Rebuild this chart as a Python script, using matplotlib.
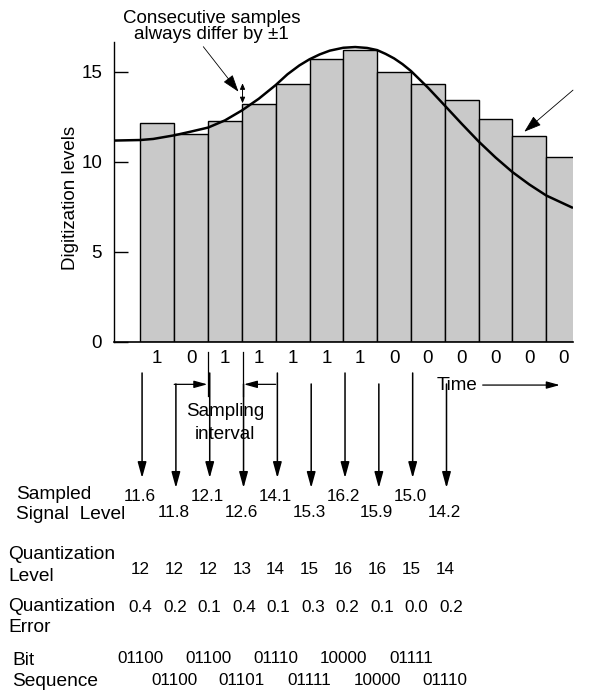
"""Digitization / quantization sketch: bars of sampled levels with the analog signal,
plus the sampled value, quantization level, error and bit sequence rows underneath."""
import matplotlib
matplotlib.use("Agg")
import matplotlib.pyplot as plt
import numpy as np

plt.rcParams["font.family"] = ["Liberation Sans", "DejaVu Sans"]

# --- values ---
levels = [12.14, 11.52, 12.24, 13.19, 14.30, 15.69, 16.20, 14.96, 14.30, 13.43, 12.38, 11.43, 10.27]
bits = ["1", "0", "1", "1", "1", "1", "1", "0", "0", "0", "0", "0", "0"]

# analog signal, traced by eye
sig_t = [-0.28, 0.5, 0.88, 1.5, 2.0, 2.5, 3.0, 3.5, 4.0, 4.5, 4.85, 5.2, 5.5, 5.8, 6.1,
         6.5, 6.85, 7.2, 7.5, 7.75, 8.0, 8.25, 8.5, 9.0, 9.5, 10.0, 10.5, 11.0, 11.5,
         12.0, 12.5, 13.29]
sig_v = [11.18, 11.21, 11.27, 11.47, 11.68, 11.9, 12.3, 12.85, 13.5, 14.26, 14.86, 15.35,
         15.69, 15.96, 16.17, 16.33, 16.37, 16.32, 16.2, 15.99, 15.74, 15.42, 15.04, 14.12,
         13.12, 12.11, 11.13, 10.24, 9.43, 8.74, 8.13, 7.44]

sampled = [11.6, 11.8, 12.1, 12.6, 14.1, 15.3, 16.2, 15.9, 15.0, 14.2]
quant_level = [12, 12, 12, 13, 14, 15, 16, 16, 15, 14]
quant_err = [0.4, 0.2, 0.1, 0.4, 0.1, 0.3, 0.2, 0.1, 0.0, 0.2]
bit_seq = ["01100", "01100", "01100", "01101", "01110", "01111", "10000", "10000", "01111", "01110"]

FS = 13.5      # axis / annotation text
FS_LAB = 13.8  # row labels
FS_VAL = 12.3  # row values

fig = plt.figure(figsize=(6.01, 6.95), dpi=100)
ax = fig.add_axes([114 / 601, (695 - 342) / 695, 459 / 601, 300 / 695])

x = np.arange(1, len(levels) + 1)
ax.bar(x, levels, width=1.0, color="#c9c9c9", edgecolor="black", linewidth=1.0)
ax.plot(sig_t, sig_v, color="black", lw=1.8, solid_capstyle="butt", solid_joinstyle="round")

ax.set_xlim(-0.28, 13.29)
ax.set_ylim(0, 16.65)
for s in ("top", "right"):
    ax.spines[s].set_visible(False)
ax.spines["left"].set_linewidth(1.0)
ax.spines["bottom"].set_linewidth(1.2)

ax.set_yticks([0, 5, 10, 15])
ax.tick_params(axis="y", direction="in", length=10, width=1.0, labelsize=FS, pad=8.5)
ax.set_xticks(x)
ax.set_xticklabels(bits)
ax.tick_params(axis="x", length=0, labelsize=FS, pad=6)
ax.set_ylabel("Digitization levels", fontsize=FS)
ax.yaxis.set_label_coords(-0.076, 0.48)


def arrow(xy, xytext, style="-|>,head_length=0.8,head_width=0.22", lw=1.1, ms=12):
    ax.annotate("", xy=xy, xytext=xytext, annotation_clip=False,
                arrowprops=dict(arrowstyle=style, color="black", lw=lw,
                                shrinkA=0, shrinkB=0, mutation_scale=ms))


def txt(xp, yp, s, fs=FS_VAL, ha="center", va="center"):
    ax.text(xp, yp, s, fontsize=fs, ha=ha, va=va, clip_on=False)


# --- top annotation ---
txt(2.6, 17.73, "Consecutive samples", fs=FS, va="baseline")
txt(2.6, 16.79, "always differ by \u00b11", fs=FS, va="baseline")
arrow((3.40, 13.89), (2.36, 16.39), style="-|>,head_length=0.9,head_width=0.3", lw=0.6)
arrow((3.52, 13.25), (3.52, 14.36), style="<|-|>,head_length=0.35,head_width=0.15", lw=0.7, ms=10)
arrow((11.85, 11.67), (13.29, 13.98), style="-|>,head_length=0.9,head_width=0.3", lw=0.6)

# --- sampling interval marker ---
for xe in (2.51, 3.53):
    ax.plot([xe, xe], [-0.55, -3.0], color="black", lw=0.9, clip_on=False)
arrow((2.48, -2.35), (1.5, -2.35), lw=0.9, ms=10)
arrow((3.56, -2.35), (4.5, -2.35), lw=0.9, ms=10)
txt(3.0, -3.87, "Sampling", fs=FS)
txt(3.0, -5.16, "interval", fs=FS)

txt(9.26, -2.39, "Time", fs=FS, ha="left")
arrow((12.9, -2.39), (10.62, -2.39), lw=0.9, ms=10)

# --- sample arrows and rows ---
for k, v in enumerate(sampled):
    xs = k + 0.55
    if k % 2 == 0:
        arrow((xs, -7.55), (xs, -1.72))
        txt(k + 0.49, -8.6, f"{v:.1f}")
    else:
        arrow((xs, -8.10), (xs, -2.33))
        txt(k + 0.49, -9.49, f"{v:.1f}")

txt(-3.17, -8.49, "Sampled", fs=FS_LAB, ha="left")
txt(-3.17, -9.6, "Signal  Level", fs=FS_LAB, ha="left")

txt(-3.41, -11.82, "Quantization", fs=FS_LAB, ha="left")
txt(-3.41, -13.04, "Level", fs=FS_LAB, ha="left")
for k, q in enumerate(quant_level):
    txt(k + 0.5, -12.6, str(q))

txt(-3.41, -14.7, "Quantization", fs=FS_LAB, ha="left")
txt(-3.41, -15.82, "Error", fs=FS_LAB, ha="left")
for k, e in enumerate(quant_err):
    txt(0.5 + 1.02 * k, -14.76, f"{e:.1f}")

txt(-3.29, -17.65, "Bit", fs=FS_LAB, ha="left")
txt(-3.29, -18.87, "Sequence", fs=FS_LAB, ha="left")
for k, b in enumerate(bit_seq):
    txt(k + 0.5, -17.54 if k % 2 == 0 else -18.76, b)

fig.savefig("out.png", dpi=100)
